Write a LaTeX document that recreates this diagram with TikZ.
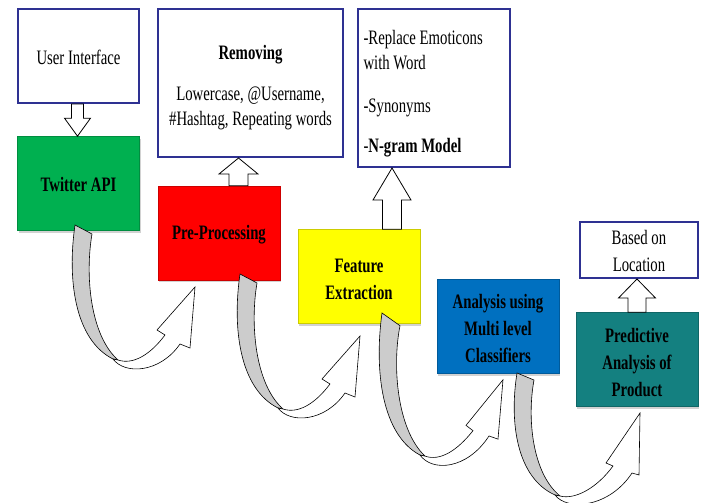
\documentclass[tikz,border=0pt]{standalone}
\usepackage{fontspec}
\setmainfont[FakeStretch=0.72]{Liberation Serif}
\usetikzlibrary{calc,shadows}

\definecolor{boxnavy}{RGB}{46,49,146}
\definecolor{apigreen}{RGB}{0,176,80}
\definecolor{prered}{RGB}{255,0,0}
\definecolor{featyellow}{RGB}{255,255,0}
\definecolor{classblue}{RGB}{0,112,192}
\definecolor{predteal}{RGB}{20,128,128}
\definecolor{ribbongray}{RGB}{204,204,204}

% hollow block arrow: lower point, upper point, half shaft, half head, head length
\newcommand{\hollowarrow}[5]{%
  \draw[hollow] let \p1=#1, \p2=#2 in
    (\x1-#3,\y1) -- (\x1-#3,\y2-#5) -- (\x1-#4,\y2-#5) -- (\x1,\y2)
    -- (\x1+#4,\y2-#5) -- (\x1+#3,\y2-#5) -- (\x1+#3,\y1) -- cycle;}

\begin{document}
\begin{tikzpicture}[x=1pt,y=-1pt,font=\fontsize{20.5}{25}\selectfont,
  plainbox/.style={draw=boxnavy,line width=2pt,fill=white,align=center,inner sep=4pt},
  stage/.style={fill=#1,draw=#1!80!black,line width=0.6pt,align=center,
    minimum width=122pt,minimum height=94pt,font=\fontsize{20.5}{27}\selectfont\bfseries,
    drop shadow={shadow xshift=1pt,shadow yshift=-2pt,opacity=0.35}},
  hollow/.style={draw=black,fill=white,line width=0.8pt,line join=miter},
  backside/.style={draw=black,fill=ribbongray,line width=0.6pt},
  frontside/.style={draw=black,fill=white,line width=0.6pt}]
  \useasboundingbox (0,0) rectangle (704,503);
  \fill[white] (0,0) rectangle (704,503);

  \node[plainbox,minimum width=121pt,minimum height=94pt] (ui) at (78.5,56)
    {\rule{0pt}{17pt}User Interface};
  \node[stage=apigreen] (twitter) at (78.5,183.5) {\rule{0pt}{17pt}Twitter API};
  \node[plainbox,minimum width=185pt,minimum height=148pt] (removing) at (250.5,83)
    {\rule{0pt}{24pt}\textbf{Removing}\\[16pt] Lowercase, @Username,\\ \#Hashtag, Repeating words};
  \node[stage=prered] (pre) at (219,233) {\rule{0pt}{18pt}Pre-Processing};
  \node[plainbox,minimum height=158pt,text width=140pt,inner xsep=6pt,align=flush left] (emoticons) at (433.5,88)
    {\rule{0pt}{26pt}-Replace Emoticons\\ with Word\\[18pt] -Synonyms\\[15pt] -\textbf{N-gram Model}};
  \node[stage=featyellow] (feature) at (359,276.5) {\rule{0pt}{20pt}Feature\\ Extraction};
  \node[stage=classblue] (analysis) at (498,326.5) {\rule{0pt}{19pt}Analysis using\\ Multi level\\ Classifiers};
  \node[stage=predteal] (predictive) at (637,359.5) {\rule{0pt}{20pt}Predictive\\ Analysis of\\ Product};
  \node[plainbox,minimum width=118pt,minimum height=56pt,inner sep=2pt] (location) at (639,250)
    {\rule{0pt}{17pt}Based on\\[2pt] Location};

  \hollowarrow{($(ui.south)+(-1,0)$)}{(twitter.north)}{6pt}{13pt}{-18pt}
  \hollowarrow{($(pre.north)+(19.5,0)$)}{(removing.south)}{9.5pt}{19.5pt}{16pt}
  \hollowarrow{($(feature.north)+(33,0)$)}{(emoticons.south)}{9.5pt}{19pt}{32pt}
  \hollowarrow{(predictive.north)}{(location.south)}{9pt}{18.5pt}{19pt}

  \begin{scope}[shift={(75,225)}]
    \draw[backside] (0,0) -- (17,9) .. controls (10,50) and (15,110) .. (43,135)
      -- (38,134) .. controls (0,115) and (-8,55) .. (0,0) -- cycle;
    \draw[frontside] (38,134) .. controls (50,150) and (85,148) .. (105,119) -- (115,123)
      -- (120,62) -- (82,105) -- (90,110) .. controls (75,130) and (58,140) .. (43,135) -- cycle;
  \end{scope}
  \begin{scope}[shift={(240,274)}]
    \draw[backside] (0,0) -- (17,9) .. controls (10,50) and (15,110) .. (43,135)
      -- (38,134) .. controls (0,115) and (-8,55) .. (0,0) -- cycle;
    \draw[frontside] (38,134) .. controls (50,150) and (85,148) .. (105,119) -- (115,123)
      -- (120,62) -- (82,105) -- (90,110) .. controls (75,130) and (58,140) .. (43,135) -- cycle;
  \end{scope}
  \begin{scope}[shift={(382,313)},yscale=1.06]
    \draw[backside] (0,0) -- (18,12) .. controls (10,50) and (15,110) .. (43,135)
      -- (38,134) .. controls (0,115) and (-8,55) .. (0,0) -- cycle;
    \draw[frontside] (38,134) .. controls (50,150) and (85,148) .. (107,116) -- (116,119)
      -- (121,63) -- (84,106) -- (91,111) .. controls (75,130) and (58,140) .. (43,135) -- cycle;
  \end{scope}
  \begin{scope}[shift={(517,373)}]
    \draw[backside] (0,0) -- (17,7) .. controls (10,45) and (15,100) .. (43,123)
      -- (38,122) .. controls (0,105) and (-8,50) .. (0,0) -- cycle;
    \draw[frontside] (38,122) .. controls (50,138) and (92,135) .. (115,100) -- (122,102)
      -- (123,40) -- (89,90) -- (96,93) .. controls (80,115) and (58,127) .. (43,123) -- cycle;
  \end{scope}
\end{tikzpicture}
\end{document}
